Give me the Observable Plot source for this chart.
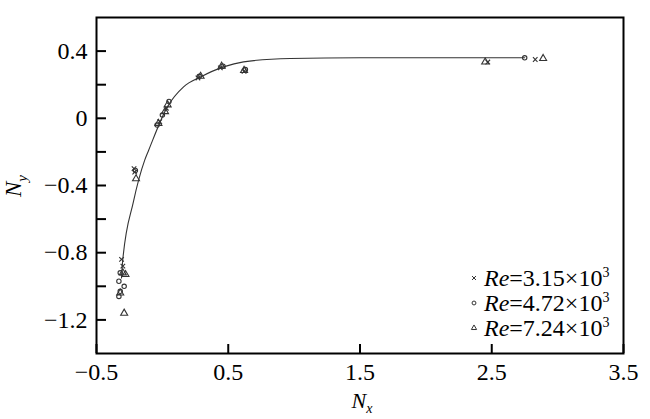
<!DOCTYPE html>
<html><head><meta charset="utf-8">
<script src="https://cdn.jsdelivr.net/npm/d3@7"></script>
<script src="https://cdn.jsdelivr.net/npm/@observablehq/plot@0.6"></script>
<style>body{margin:0;background:#fff}</style>
</head><body><div id="chart"></div>
<script>
// Re = 3.15e3 (×)
const re1X = [-0.31, -0.30, -0.215, -0.21, -0.02, 0.03, 0.27, 0.44, 0.62, 2.47, 2.83];
const re1Y = [-0.84, -0.88, -0.30, -0.32, -0.02, 0.06, 0.24, 0.30, 0.28, 0.335, 0.35];
// Re = 4.72e3 (○)
const re2X = [-0.33, -0.32, -0.33, -0.32, -0.29, -0.205, -0.04, 0.0, 0.05, 0.28, 0.46, 0.63, 2.75];
const re2Y = [-1.06, -1.03, -0.97, -0.92, -1.00, -0.31, -0.04, 0.02, 0.10, 0.25, 0.31, 0.29, 0.36];
// Re = 7.24e3 (△)
const re3X = [-0.32, -0.30, -0.28, -0.29, -0.20, -0.03, 0.02, 0.04, 0.29, 0.45, 0.62, 2.45, 2.89];
const re3Y = [-1.04, -0.92, -0.93, -1.16, -0.36, -0.03, 0.04, 0.08, 0.25, 0.31, 0.285, 0.335, 0.356];
// fitted curve
const curveX = [-0.31, -0.303, -0.22, -0.134, -0.104, 0.038, 0.161, 0.29, 0.464, 0.616, 0.972, 1.5, 2.75];
const curveY = [-0.95, -0.862, -0.498, -0.249, -0.19, 0.068, 0.187, 0.246, 0.306, 0.336, 0.356, 0.36, 0.36];

const xTicks = [-0.5, 0.5, 1.5, 2.5, 3.5];
const yTicks = [-1.2, -0.8, -0.4, 0, 0.4];
const yMinorTicks = [-1.2, -1.0, -0.8, -0.6, -0.4, -0.2, 0, 0.2, 0.4];
const legendMantissa = ["3.15", "4.72", "7.24"];
const legendSymbols = ["times", "circle", "triangle"];

const toRows = (xs, ys) => xs.map((x, i) => ({x, y: ys[i]}));
const re1 = toRows(re1X, re1Y), re2 = toRows(re2X, re2Y), re3 = toRows(re3X, re3Y);
const curve = toRows(curveX, curveY);

const fmt = d3.format("~g");
const font = "Liberation Serif, Times New Roman, serif";
const mk = "#333";

const chart = Plot.plot({
  width: 650, height: 419,
  marginLeft: 96, marginRight: 27, marginTop: 17, marginBottom: 66,
  style: {fontFamily: font, fontSize: "24px", color: "#000", background: "#fff", overflow: "visible"},
  x: {domain: [-0.5, 3.5]},
  y: {domain: [-1.4, 0.6]},
  marks: [
    Plot.axisY(yMinorTicks, {tickSize: -10, tickFormat: () => "", strokeWidth: 2, label: null}),
    Plot.axisY(yTicks, {tickSize: 0, tickPadding: 9, tickFormat: fmt, label: null, fill: "#000"}),
    Plot.axisX(xTicks, {tickSize: -9, tickFormat: () => "", strokeWidth: 2, label: null}),
    Plot.axisX(xTicks, {tickSize: 0, tickPadding: 9, tickFormat: fmt, label: null, fill: "#000"}),
    Plot.line(curve, {x: "x", y: "y", curve: "monotone-x", stroke: "#333", strokeWidth: 1.1}),
    Plot.dot(re1, {x: "x", y: "y", symbol: "times", r: 2.2, stroke: mk, strokeWidth: 1.1}),
    Plot.dot(re2, {x: "x", y: "y", symbol: "circle", r: 2.2, stroke: mk, strokeWidth: 1.1}),
    Plot.dot(re3, {x: "x", y: "y", symbol: "triangle", r: 2.6, stroke: mk, strokeWidth: 1.1}),
    Plot.frame({stroke: "#000", strokeWidth: 2})
  ]
});
document.getElementById("chart").appendChild(chart);

const svg = d3.select(chart);
// axis titles
const tx = svg.append("text").attr("x", 362).attr("y", 408).attr("text-anchor", "middle")
  .style("font-family", font).attr("font-size", 22).attr("fill", "#000");
tx.append("tspan").attr("font-style", "italic").text("N");
tx.append("tspan").attr("font-style", "italic").attr("font-size", 14).attr("dy", 5).text("x");

const ty = svg.append("text").attr("transform", "translate(21,186) rotate(-90)").attr("text-anchor", "middle")
  .style("font-family", font).attr("font-size", 23).attr("fill", "#000");
ty.append("tspan").attr("font-style", "italic").text("N");
ty.append("tspan").attr("font-style", "italic").attr("font-size", 15).attr("dy", 6).text("y");

// legend
const symMap = {times: d3.symbolTimes, circle: d3.symbolCircle, triangle: d3.symbolTriangle};
const lg = svg.append("g");
legendMantissa.forEach((m, i) => {
  const cy = 278 + i * 25;
  lg.append("path").attr("transform", `translate(474,${cy})`)
    .attr("d", d3.symbol(symMap[legendSymbols[i]], 12)())
    .attr("fill", "none").attr("stroke", mk).attr("stroke-width", 1);
  const t = lg.append("text").attr("x", 484).attr("y", cy + 8).attr("text-anchor", "start")
    .style("font-family", font).attr("font-size", 24).attr("fill", "#000");
  t.append("tspan").attr("font-style", "italic").text("Re");
  t.append("tspan").text(`=${m}×10`);
  t.append("tspan").attr("font-size", 14).attr("dy", -9).text("3");
});
</script>
</body></html>
